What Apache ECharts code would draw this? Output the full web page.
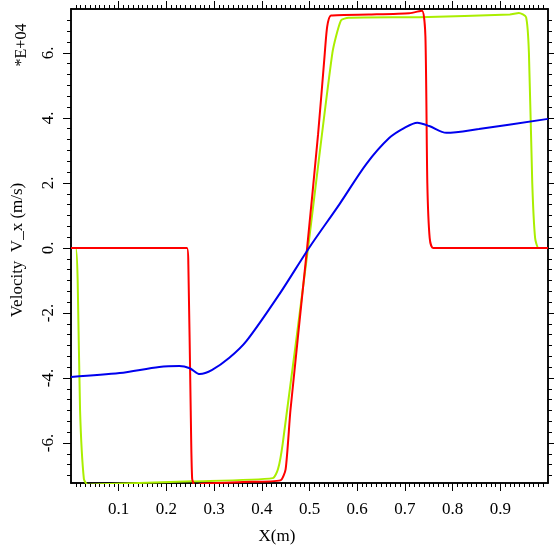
<!DOCTYPE html>
<html><head><meta charset="utf-8">
<script src="https://cdn.jsdelivr.net/npm/echarts@6/dist/echarts.min.js"></script>
<style>html,body{margin:0;padding:0;background:#fff}#c{width:554px;height:555px}</style>
</head><body><div id="c"></div>
<script>
// values in units of 1E+04 m/s
const redData = [[0,0],[0.243,0],[0.246,-0.5],[0.251,-5],[0.254,-7.1],[0.260,-7.32],[0.275,-7.25],[0.36,-7.2],[0.439,-7.15],[0.450,-6.8],[0.460,-5],[0.495,0],[0.518,3.5],[0.531,5.8],[0.537,6.8],[0.545,7.15],[0.624,7.18],[0.709,7.22],[0.736,7.3],[0.743,6.5],[0.747,2],[0.752,0.3],[0.759,0],[1.0,0]];
const greenData = [[0,0],[0.010,0],[0.014,-1],[0.019,-5],[0.027,-7.1],[0.035,-7.28],[0.095,-7.25],[0.254,-7.18],[0.423,-7.08],[0.434,-6.8],[0.444,-6],[0.497,0],[0.548,6],[0.566,7.0],[0.582,7.08],[0.73,7.1],[0.92,7.18],[0.939,7.23],[0.954,7.1],[0.960,6],[0.967,2],[0.973,0.3],[0.980,0],[1.0,0]];
const blueData = [[0,-3.97],[0.102,-3.85],[0.185,-3.66],[0.227,-3.63],[0.249,-3.7],[0.270,-3.88],[0.296,-3.75],[0.332,-3.38],[0.368,-2.86],[0.437,-1.42],[0.499,0],[0.563,1.35],[0.619,2.58],[0.667,3.38],[0.700,3.7],[0.726,3.85],[0.751,3.75],[0.787,3.54],[0.855,3.66],[1.0,3.97]];
const xTicks = [0.1,0.2,0.3,0.4,0.5,0.6,0.7,0.8,0.9];
const yTicks = [-6,-4,-2,0,2,4,6];
const xMinor = []; for (let i=1;i<100;i++) xMinor.push(+(i*0.01).toFixed(2));
const yMinor = []; for (let i=-21;i<=21;i++) yMinor.push(+(i/3).toFixed(3));

const font = 'Liberation Serif';
const X0 = 0, X1 = 1, Y0 = -7.23, Y1 = 7.35;
function xa(pos, vals, len, labels){
  return {type:'value',position:pos,min:X0,max:X1,
    axisLine:{show:true,onZero:false,lineStyle:{color:'#000',width:1.5}},
    axisTick:{show:true,length:len,customValues:vals,lineStyle:{color:'#000'}},
    axisLabel:{show:labels,customValues:vals,fontFamily:font,fontSize:17,color:'#000',margin:18},
    splitLine:{show:false}};
}
function ya(pos,vals,len,labels){
  return {type:'value',position:pos,min:Y0,max:Y1,
    axisLine:{show:true,onZero:false,lineStyle:{color:'#000',width:1.5}},
    axisTick:{show:true,length:len,customValues:vals,lineStyle:{color:'#000'}},
    axisLabel:{show:labels,customValues:vals,rotate:90,fontFamily:font,fontSize:17,color:'#000',margin:14,
      formatter:v=>v+'.'},
    splitLine:{show:false}};
}
const chart = echarts.init(document.getElementById('c'));
chart.setOption({
  animation:false,
  grid:{left:71,right:6,top:9,bottom:72},
  xAxis:[xa('bottom',xTicks,8,true),xa('bottom',xMinor,4,false),xa('top',xMinor,4,false),xa('top',xTicks,8,false)],
  yAxis:[ya('left',yTicks,8,true),ya('left',yMinor,4,false),ya('right',yMinor,4,false),ya('right',yTicks,6,false)],
  graphic:[
    {type:'text',left:'center',top:528,style:{text:'X(m)',font:'17px "Liberation Serif"',fill:'#000'}},
    {type:'text',x:18,y:250,rotation:Math.PI/2,style:{text:'Velocity  V_x (m/s)',font:'17px "Liberation Serif"',fill:'#000',align:'center',verticalAlign:'middle'}},
    {type:'text',x:22,y:45,rotation:Math.PI/2,style:{text:'*E+04',font:'16px "Liberation Serif"',fill:'#000',align:'center',verticalAlign:'middle'}}
  ],
  series:[
    {type:'line',data:greenData,showSymbol:false,lineStyle:{color:'#aaee00',width:2},smooth:0.2},
    {type:'line',data:redData,showSymbol:false,lineStyle:{color:'#ff0000',width:2},smooth:0.2},
    {type:'line',data:blueData,showSymbol:false,lineStyle:{color:'#0000ee',width:2},smooth:0.3}
  ]
});
</script></body></html>
